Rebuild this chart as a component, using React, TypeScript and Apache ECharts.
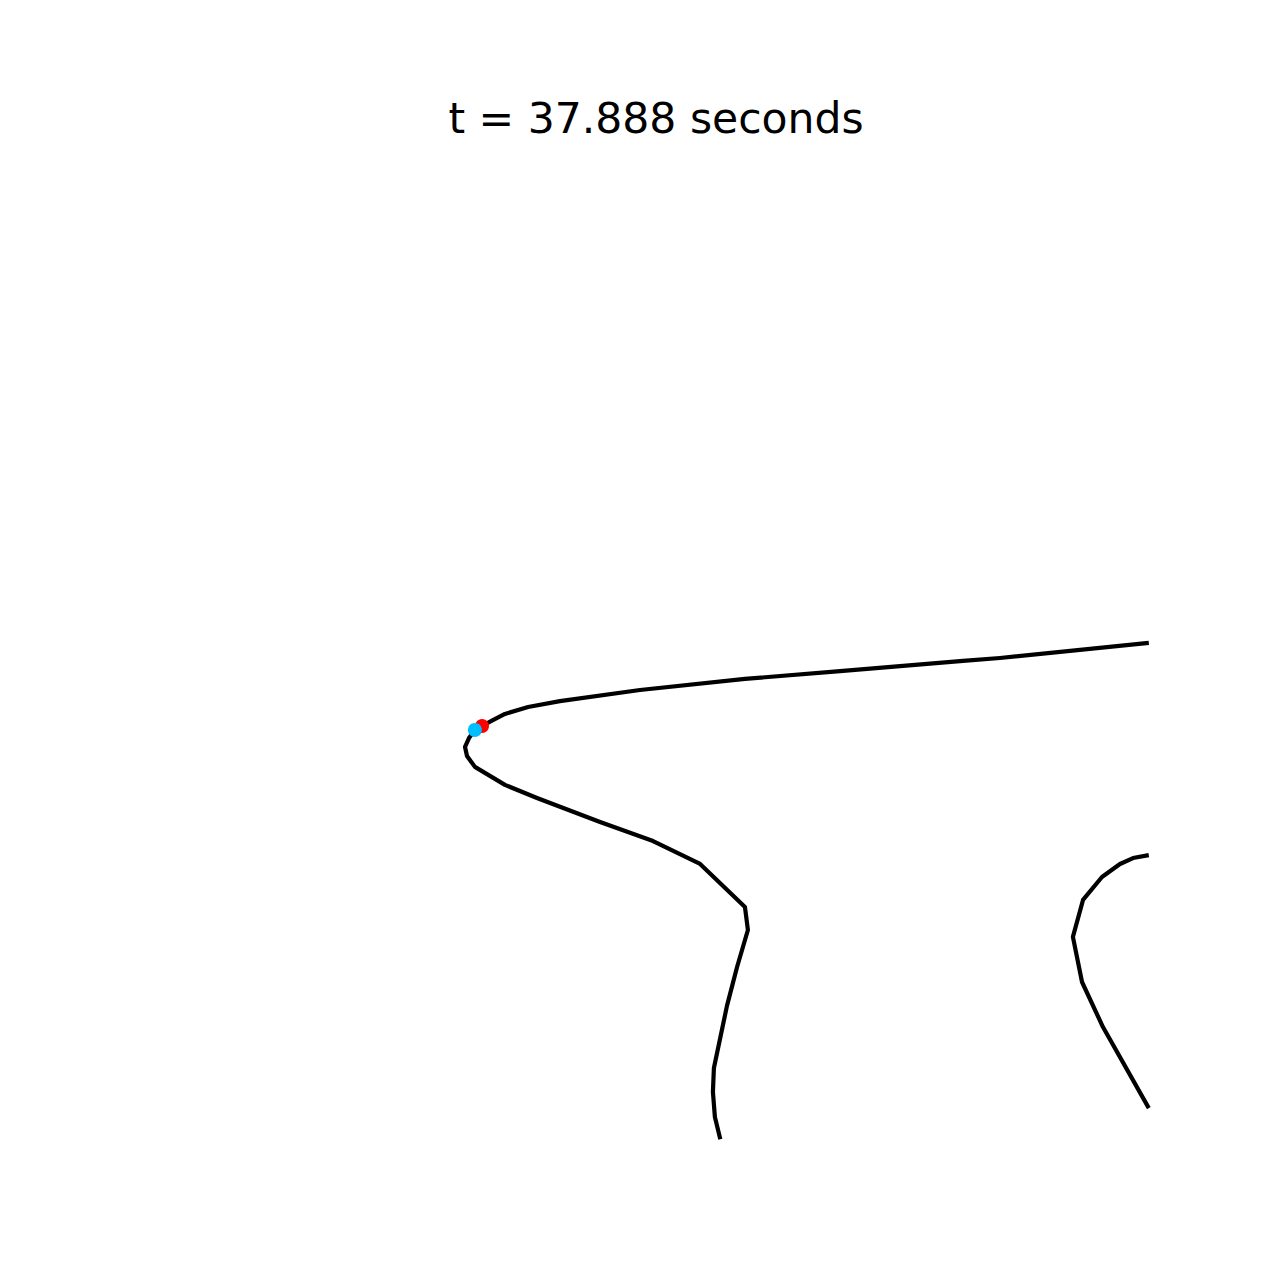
import React, { useEffect, useRef } from "react";
import * as echarts from "echarts";

const titleText = "t = 37.888 seconds";

// trace of the pendulum bob (data units, axes span -2..2)
const traceX1 = [2.0, 1.396, 1.246, 0.747, 0.361, -0.065, -0.39, -0.519, -0.613, -0.662, -0.706, -0.735, -0.759, -0.775, -0.767, -0.735, -0.613, -0.483, -0.227, -0.012, 0.179, 0.361, 0.373, 0.329, 0.288, 0.235, 0.231, 0.239, 0.261];
const traceY1 = [0.014, -0.047, -0.059, -0.1, -0.132, -0.177, -0.222, -0.246, -0.274, -0.299, -0.323, -0.339, -0.372, -0.408, -0.445, -0.489, -0.562, -0.615, -0.713, -0.79, -0.883, -1.058, -1.151, -1.301, -1.459, -1.711, -1.808, -1.91, -2.0];

const traceX2 = [2.0, 1.936, 1.883, 1.81, 1.733, 1.692, 1.729, 1.814, 2.0];
const traceY2 = [-0.847, -0.859, -0.883, -0.936, -1.029, -1.179, -1.362, -1.545, -1.874];

const redPoint = [-0.706, -0.323];
const cyanPoint = [-0.735, -0.339];

const zip = (xs: number[], ys: number[]) => xs.map((x, i) => [x, ys[i]]);

export default function App() {
  const ref = useRef<HTMLDivElement>(null);
  useEffect(() => {
    if (!ref.current) return;
    const chart = echarts.init(ref.current, null, { renderer: "svg" });
    chart.setOption({
      animation: false,
      backgroundColor: "#ffffff",
      graphic: [
        {
          type: "text",
          x: 656,
          y: 118,
          style: {
            text: titleText,
            fontFamily: "DejaVu Sans",
            fontSize: 42.5,
            fill: "#000000",
            align: "center",
            verticalAlign: "middle",
          },
        },
      ],
      grid: { left: 163.2, top: 153.6, width: 985.6, height: 985.6, containLabel: false, show: false },
      xAxis: { type: "value", min: -2, max: 2, show: false },
      yAxis: { type: "value", min: -2, max: 2, show: false },
      series: [
        {
          type: "line",
          data: zip(traceX1, traceY1),
          showSymbol: false,
          symbol: "none",
          clip: false,
          lineStyle: { color: "#000000", width: 4.2, join: "round", cap: "butt" },
          z: 2,
        },
        {
          type: "line",
          data: zip(traceX2, traceY2),
          showSymbol: false,
          symbol: "none",
          clip: false,
          lineStyle: { color: "#000000", width: 4.2, join: "round", cap: "butt" },
          z: 2,
        },
        {
          type: "scatter",
          data: [redPoint],
          symbolSize: 14,
          itemStyle: { color: "#ff0000", opacity: 1 },
          z: 3,
        },
        {
          type: "scatter",
          data: [cyanPoint],
          symbolSize: 14,
          itemStyle: { color: "#00bfff", opacity: 1 },
          z: 4,
        },
      ],
    });
    return () => chart.dispose();
  }, []);
  return <div ref={ref} style={{ width: 1280, height: 1280, margin: -8 }} />;
}
